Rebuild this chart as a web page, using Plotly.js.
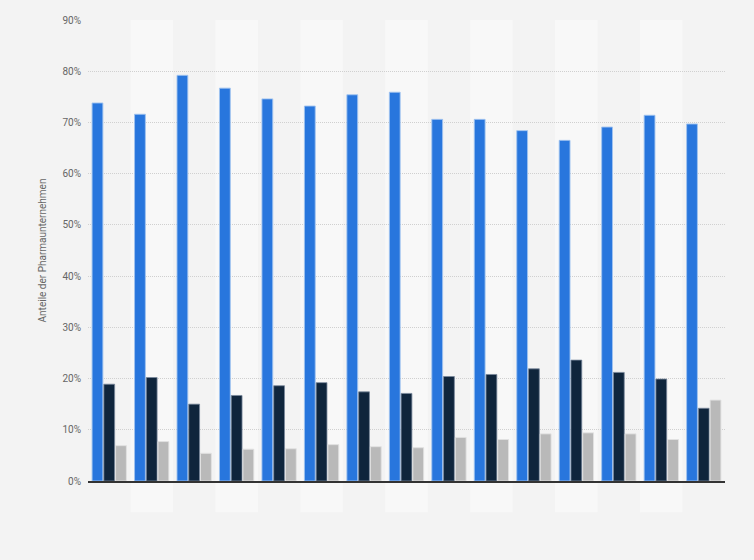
<!DOCTYPE html>
<html>
<head>
<meta charset="utf-8">
<script src="https://cdn.plot.ly/plotly-3.0.1.min.js"></script>
<style>
  body { margin: 0; background: #f3f3f3; }
  #chart { width: 754px; height: 560px; }
</style>
</head>
<body>
<div id="chart"></div>
<script>
// 15 groups, no labels shown on the x axis
var groups = [1, 2, 3, 4, 5, 6, 7, 8, 9, 10, 11, 12, 13, 14, 15];

var blueVals = [73.8, 71.6, 79.2, 76.7, 74.6, 73.2, 75.4, 75.9, 70.6, 70.6, 68.4, 66.5, 69.1, 71.4, 69.7];
var navyVals = [18.9, 20.2, 15.0, 16.7, 18.6, 19.2, 17.4, 17.1, 20.4, 20.8, 21.9, 23.6, 21.2, 19.9, 14.2];
var greyVals = [6.9, 7.7, 5.4, 6.2, 6.3, 7.1, 6.7, 6.5, 8.5, 8.1, 9.2, 9.4, 9.2, 8.1, 15.8];

var yTicks = [0, 10, 20, 30, 40, 50, 60, 70, 80, 90];
var yTickLabels = ['0%', '10%', '20%', '30%', '40%', '50%', '60%', '70%', '80%', '90%'];

function barTrace(vals, color, edge) {
  return {
    type: 'bar',
    x: groups,
    y: vals,
    marker: { color: color, line: { color: edge, width: 1 } },
    hoverinfo: 'y'
  };
}

var data = [
  barTrace(blueVals, '#2876dd', 'rgba(160,195,240,0.9)'),
  barTrace(navyVals, '#0f253c', 'rgba(120,135,155,0.8)'),
  barTrace(greyVals, '#b9b9b9', 'rgba(225,225,225,0.9)')
];

// alternating light column bands behind every second group
var stripes = [];
for (var i = 0; i < groups.length; i++) {
  if (i % 2 == 1) {
    stripes.push({
      type: 'rect', layer: 'below',
      xref: 'x', yref: 'paper',
      x0: groups[i] - 0.5, x1: groups[i] + 0.5,
      y0: -0.068, y1: 1,
      fillcolor: '#f8f8f8', line: { width: 0 }
    });
  }
}

var layout = {
  width: 754,
  height: 560,
  margin: { l: 88, r: 29, t: 20, b: 79 },
  paper_bgcolor: '#f3f3f3',
  plot_bgcolor: 'rgba(0,0,0,0)',
  showlegend: false,
  barmode: 'group',
  bargap: 0.17,
  bargroupgap: 0.08,
  shapes: stripes,
  font: { family: 'Roboto, Arial, sans-serif', color: '#666' },
  xaxis: {
    range: [0.5, 15.5],
    showticklabels: false,
    ticks: '',
    showgrid: false,
    zeroline: false,
    showline: true,
    linecolor: '#333',
    linewidth: 1.5
  },
  yaxis: {
    range: [0, 90],
    tickmode: 'array',
    tickvals: yTicks,
    ticktext: yTickLabels,
    tickfont: { size: 10, color: '#666' },
    showgrid: true,
    gridcolor: '#d0d0d0',
    griddash: '1px,1px',
    gridwidth: 1,
    zeroline: false,
    ticks: '',
    ticklabelstandoff: 6,
    title: {
      text: 'Anteile der Pharmaunternehmen',
      font: { size: 10, color: '#666' },
      standoff: 13
    }
  }
};

Plotly.newPlot('chart', data, layout, { displayModeBar: false });
</script>
</body>
</html>
